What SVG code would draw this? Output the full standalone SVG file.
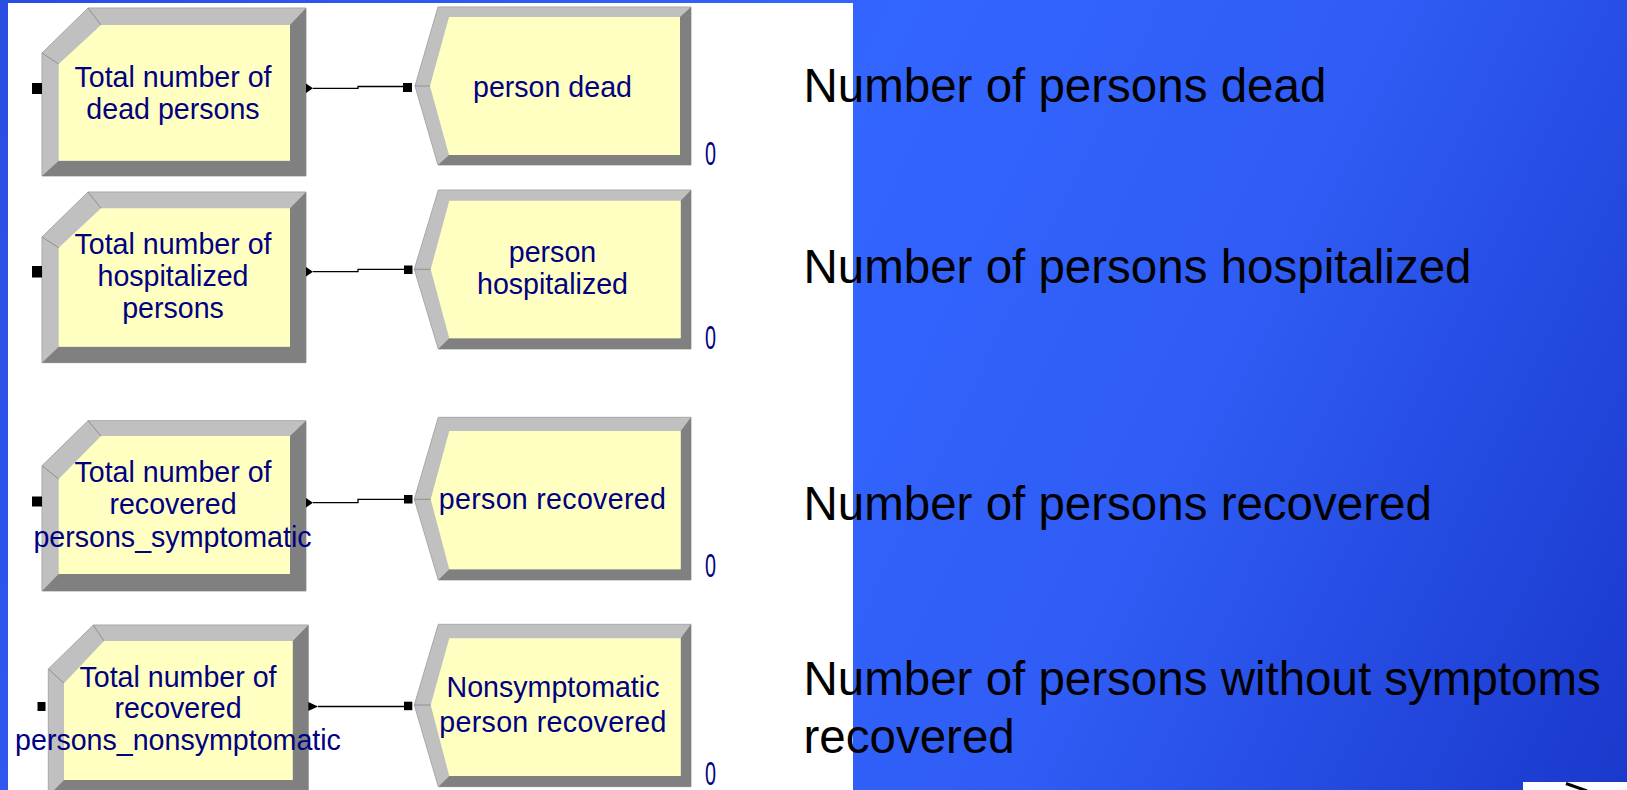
<svg xmlns="http://www.w3.org/2000/svg" width="1627" height="790" viewBox="0 0 1627 790">
<style>
.light{fill:#c0c0c0;stroke:#a8a8a8;stroke-width:1}
.dark{fill:#808080}
.face{fill:#ffffc2}
.sep{stroke:#909090;stroke-width:1;fill:none}
.lbl{font-family:"Liberation Sans",Arial,sans-serif;font-size:28.6px;fill:#000080;text-anchor:middle}
.cnt{font-family:"Liberation Sans",Arial,sans-serif;font-size:34px;fill:#000080}
.big{font-family:"Liberation Sans",Arial,sans-serif;font-size:47.5px;fill:#000000}
.port{fill:#000000}
.conn{fill:none;stroke:#000000;stroke-width:1.3}
</style>
<defs>
<linearGradient id="bg" gradientUnits="userSpaceOnUse" x1="0" y1="0" x2="1627" y2="790">
<stop offset="0" stop-color="#2a4de2"/>
<stop offset="0.45" stop-color="#3366ff"/>
<stop offset="0.7" stop-color="#2f5cf4"/>
<stop offset="1" stop-color="#1a38cc"/>
</linearGradient>
</defs>
<rect x="0" y="0" width="1627" height="790" fill="url(#bg)"/>
<rect x="8" y="3" width="845" height="790" fill="#ffffff"/>
<rect x="1523" y="782" width="104" height="8" fill="#ffffff"/>
<line x1="1566" y1="783.5" x2="1587" y2="791" stroke="#000000" stroke-width="3"/>

<g id="connectors">
<path class="conn" d="M313,88.3 H358 V86.5 H404"/>
<path class="conn" d="M313,271.7 H358 V269.3 H404"/>
<path class="conn" d="M313,502.7 H358 V499.3 H404"/>
<path class="conn" d="M318,706.5 H404"/>
</g>

<g id="create-dead">
<polygon class="light" points="88,8 306,8 306,176 42,176 42,53"/>
<polygon class="dark" points="306,8 306,176 42,176 58.7,160.7 290,160.7 290,25"/>
<polygon class="face" points="101,25 290,25 290,160.7 58.7,160.7 58.7,64"/>
<path class="sep" d="M88,8 L101,25 M42,53 L58.7,64"/>
<rect class="port" x="32" y="83" width="10" height="11"/>
<polygon class="port" points="306,83.5 313,88.3 306,93"/>
<text class="lbl" x="173" y="87.3">Total number of</text>
<text class="lbl" x="173" y="119">dead persons</text>
</g>

<g id="create-hospitalized">
<polygon class="light" points="88,192 306,192 306,362.7 42,362.7 42,237"/>
<polygon class="dark" points="306,192 306,362.7 42,362.7 58.7,346.7 290,346.7 290,208.3"/>
<polygon class="face" points="101,208.3 290,208.3 290,346.7 58.7,346.7 58.7,247.7"/>
<path class="sep" d="M88,192 L101,208.3 M42,237 L58.7,247.7"/>
<rect class="port" x="32" y="266" width="10" height="11.5"/>
<polygon class="port" points="306,267 313,271.7 306,276.4"/>
<text class="lbl" x="173" y="254">Total number of</text>
<text class="lbl" x="173" y="286">hospitalized</text>
<text class="lbl" x="173" y="317.7">persons</text>
</g>

<g id="create-recovered">
<polygon class="light" points="88,420.7 306,420.7 306,591 42,591 42,465.7"/>
<polygon class="dark" points="306,420.7 306,591 42,591 58.7,574 290,574 290,436"/>
<polygon class="face" points="101,436 290,436 290,574 58.7,574 58.7,479"/>
<path class="sep" d="M88,420.7 L101,436 M42,465.7 L58.7,479"/>
<rect class="port" x="32" y="496.5" width="10" height="10"/>
<polygon class="port" points="306,498 313,502.7 306,507.4"/>
<text class="lbl" x="173" y="481.7">Total number of</text>
<text class="lbl" x="173" y="514.3">recovered</text>
<text class="lbl" x="172.5" y="546.7">persons_symptomatic</text>
</g>

<g id="create-nonsymptomatic">
<polygon class="light" points="93.3,625 308.3,625 308.3,796 48.3,796 48.3,669"/>
<polygon class="dark" points="308.3,625 308.3,796 48.3,796 64,780 292.7,780 292.7,641"/>
<polygon class="face" points="104,641 292.7,641 292.7,780 64,780 64,683.3"/>
<path class="sep" d="M93.3,625 L104,641 M48.3,669 L64,683.3"/>
<rect class="port" x="37.5" y="702" width="8" height="9"/>
<polygon class="port" points="308.3,702 318,706.5 308.3,711"/>
<text class="lbl" x="178" y="686.7">Total number of</text>
<text class="lbl" x="178" y="718.3">recovered</text>
<text class="lbl" x="178" y="750">persons_nonsymptomatic</text>
</g>

<g id="dispose-dead">
<polygon class="light" points="438,7 691,7 691,165 438,165 415,86"/>
<polygon class="dark" points="691,7 691,165 438,165 449,155 680,155 680,17"/>
<polygon class="face" points="449,17 680,17 680,155 449,155 430,86"/>
<path class="sep" d="M415,86 H430"/>
<rect class="port" x="403" y="83" width="9" height="9"/>
<text class="lbl" x="552.5" y="97">person dead</text>
<text class="cnt" x="705" y="165" textLength="11" lengthAdjust="spacingAndGlyphs">0</text>
</g>

<g id="dispose-hospitalized">
<polygon class="light" points="438.3,190 691,190 691,349 438.3,349 414.3,269.3"/>
<polygon class="dark" points="691,190 691,349 438.3,349 449.3,338.3 680.7,338.3 680.7,200.7"/>
<polygon class="face" points="449.3,200.7 680.7,200.7 680.7,338.3 449.3,338.3 430.7,269.3"/>
<path class="sep" d="M414.3,269.3 H430.7"/>
<rect class="port" x="404" y="265.5" width="8.5" height="8.5"/>
<text class="lbl" x="552.5" y="261.7">person</text>
<text class="lbl" x="552.5" y="294.3">hospitalized</text>
<text class="cnt" x="705" y="349" textLength="11" lengthAdjust="spacingAndGlyphs">0</text>
</g>

<g id="dispose-recovered">
<polygon class="light" points="438.3,417.3 691,417.3 691,580 438.3,580 414.3,499.3"/>
<polygon class="dark" points="691,417.3 691,580 438.3,580 449.3,569.3 680.7,569.3 680.7,431"/>
<polygon class="face" points="449.3,431 680.7,431 680.7,569.3 449.3,569.3 430.7,499.3"/>
<path class="sep" d="M414.3,499.3 H430.7"/>
<rect class="port" x="404" y="495" width="8.5" height="8.5"/>
<text class="lbl" x="552.5" y="509" letter-spacing="0.3">person recovered</text>
<text class="cnt" x="705" y="577" textLength="11" lengthAdjust="spacingAndGlyphs">0</text>
</g>

<g id="dispose-nonsymptomatic">
<polygon class="light" points="438.3,624.3 691,624.3 691,786.7 438.3,786.7 414.3,705"/>
<polygon class="dark" points="691,624.3 691,786.7 438.3,786.7 449.3,776 680.7,776 680.7,638.3"/>
<polygon class="face" points="449.3,638.3 680.7,638.3 680.7,776 449.3,776 430.7,705"/>
<path class="sep" d="M414.3,705 H430.7"/>
<rect class="port" x="404" y="701.7" width="8.3" height="8.5"/>
<text class="lbl" x="553" y="697.3">Nonsymptomatic</text>
<text class="lbl" x="553" y="731.7" letter-spacing="0.3">person recovered</text>
<text class="cnt" x="705" y="785" textLength="11" lengthAdjust="spacingAndGlyphs">0</text>
</g>

<g id="captions">
<text class="big" x="803.5" y="101.7">Number of persons dead</text>
<text class="big" x="803.5" y="282.7">Number of persons hospitalized</text>
<text class="big" x="803.5" y="520">Number of persons recovered</text>
<text class="big" x="803.5" y="695">Number of persons without symptoms</text>
<text class="big" x="803.5" y="752.7">recovered</text>
</g>
</svg>
